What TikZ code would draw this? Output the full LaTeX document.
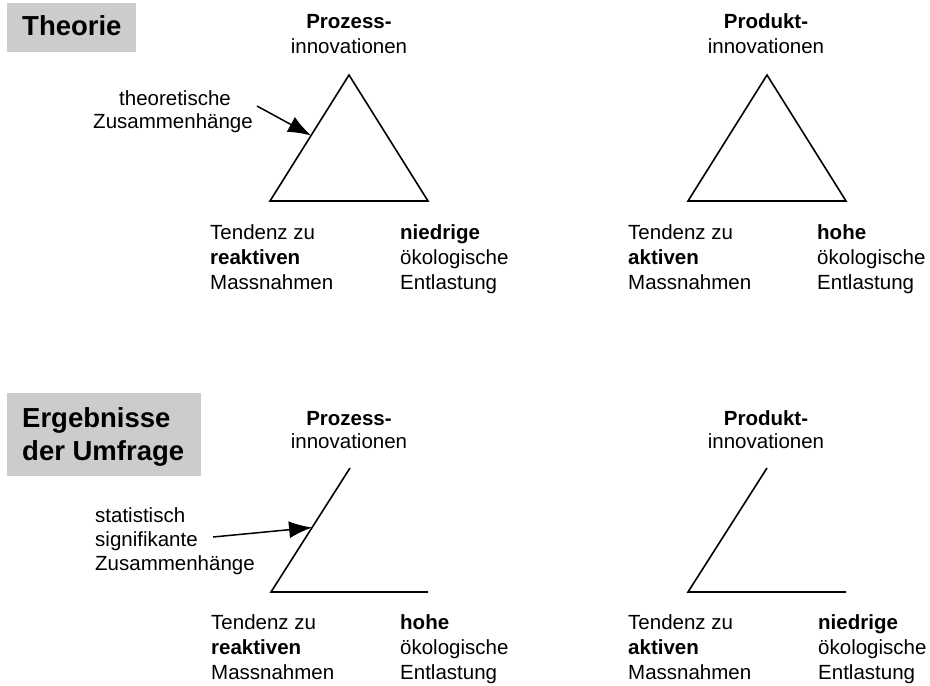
\documentclass[tikz,border=0pt]{standalone}
\usepackage{fontspec}
\setmainfont{Liberation Sans}
\usetikzlibrary{arrows.meta,calc}
\definecolor{boxgray}{RGB}{204,204,204}
\begin{document}
\begin{tikzpicture}[x=1pt,y=-1pt,
  txt/.style={font=\fontsize{20.5}{25}\selectfont, inner sep=0pt, anchor=base west},
  ctxt/.style={font=\fontsize{20.5}{25}\selectfont, inner sep=0pt, anchor=base},
  btxt/.style={font=\fontsize{20.5}{25}\selectfont\bfseries, inner sep=0pt, anchor=base west},
  cbtxt/.style={font=\fontsize{20.5}{25}\selectfont\bfseries, inner sep=0pt, anchor=base},
  title/.style={font=\fontsize{27.5}{33}\selectfont\bfseries, inner sep=0pt, anchor=base west},
  triline/.style={line width=1.6pt, line join=miter},
  pointer/.style={line width=1.5pt, -{Latex[length=23pt,width=17pt]}},
  graybox/.style={fill=boxgray, draw=none}]
\useasboundingbox (0,0) rectangle (930,686);

% gray title boxes
\fill[graybox] (7,3) rectangle (136,52);
\node[title] (theo) at (22,35) {Theorie};
\fill[graybox] (7,393) rectangle (201,476);
\node[title] (erg1) at (22,427) {Ergebnisse};
\node[title] (erg2) at (22,460) {der Umfrage};

% ---------- top left triangle
\coordinate (t1a) at (349,75);
\coordinate (t1l) at (270,201);
\coordinate (t1r) at (428,201);
\draw[triline] (t1a) -- (t1l) -- (t1r) -- cycle;
\node[cbtxt] (p1a) at (349,28) {Prozess-};
\node[ctxt] (p1b) at (349,53) {innovationen};
\node[ctxt] (th1) at (175,105) {theoretische};
\node[ctxt] (th2) at (173,128) {Zusammenhänge};
\coordinate (a1s) at (257,106);
\coordinate (a1e) at ($(t1l)!0.52!(t1a)$);
\draw[pointer] (a1s) -- (a1e);
\node[txt] (l1a) at (210,239) {Tendenz zu};
\node[btxt] (l1b) at (210,264) {reaktiven};
\node[txt] (l1c) at (210,289) {Massnahmen};
\node[btxt] (r1a) at (400,239) {niedrige};
\node[txt] (r1b) at (400,264) {ökologische};
\node[txt] (r1c) at (400,289) {Entlastung};

% ---------- top right triangle
\coordinate (t2a) at (767,75);
\coordinate (t2l) at (688,201);
\coordinate (t2r) at (846,201);
\draw[triline] (t2a) -- (t2l) -- (t2r) -- cycle;
\node[cbtxt] (p2a) at (766,28) {Produkt-};
\node[ctxt] (p2b) at (766,53) {innovationen};
\node[txt] (l2a) at (628,239) {Tendenz zu};
\node[btxt] (l2b) at (628,264) {aktiven};
\node[txt] (l2c) at (628,289) {Massnahmen};
\node[btxt] (r2a) at (817,239) {hohe};
\node[txt] (r2b) at (817,264) {ökologische};
\node[txt] (r2c) at (817,289) {Entlastung};

% ---------- bottom left open shape
\coordinate (t3a) at (350,468);
\coordinate (t3l) at (271,592);
\coordinate (t3r) at (428,592);
\draw[triline] (t3a) -- (t3l) -- (t3r);
\node[cbtxt] (p3a) at (349,425) {Prozess-};
\node[ctxt] (p3b) at (349,448) {innovationen};
\node[txt] (s1) at (95,522) {statistisch};
\node[txt] (s2) at (95,546) {signifikante};
\node[txt] (s3) at (95,570) {Zusammenhänge};
\coordinate (a2s) at (213,537);
\coordinate (a2e) at ($(t3l)!0.52!(t3a)$);
\draw[pointer] (a2s) -- (a2e);
\node[txt] (l3a) at (211,629) {Tendenz zu};
\node[btxt] (l3b) at (211,654) {reaktiven};
\node[txt] (l3c) at (211,679) {Massnahmen};
\node[btxt] (r3a) at (400,629) {hohe};
\node[txt] (r3b) at (400,654) {ökologische};
\node[txt] (r3c) at (400,679) {Entlastung};

% ---------- bottom right open shape
\coordinate (t4a) at (767,468);
\coordinate (t4l) at (688,592);
\coordinate (t4r) at (846,592);
\draw[triline] (t4a) -- (t4l) -- (t4r);
\node[cbtxt] (p4a) at (766,425) {Produkt-};
\node[ctxt] (p4b) at (766,448) {innovationen};
\node[txt] (l4a) at (628,629) {Tendenz zu};
\node[btxt] (l4b) at (628,654) {aktiven};
\node[txt] (l4c) at (628,679) {Massnahmen};
\node[btxt] (r4a) at (818,629) {niedrige};
\node[txt] (r4b) at (818,654) {ökologische};
\node[txt] (r4c) at (818,679) {Entlastung};
\end{tikzpicture}
\end{document}
